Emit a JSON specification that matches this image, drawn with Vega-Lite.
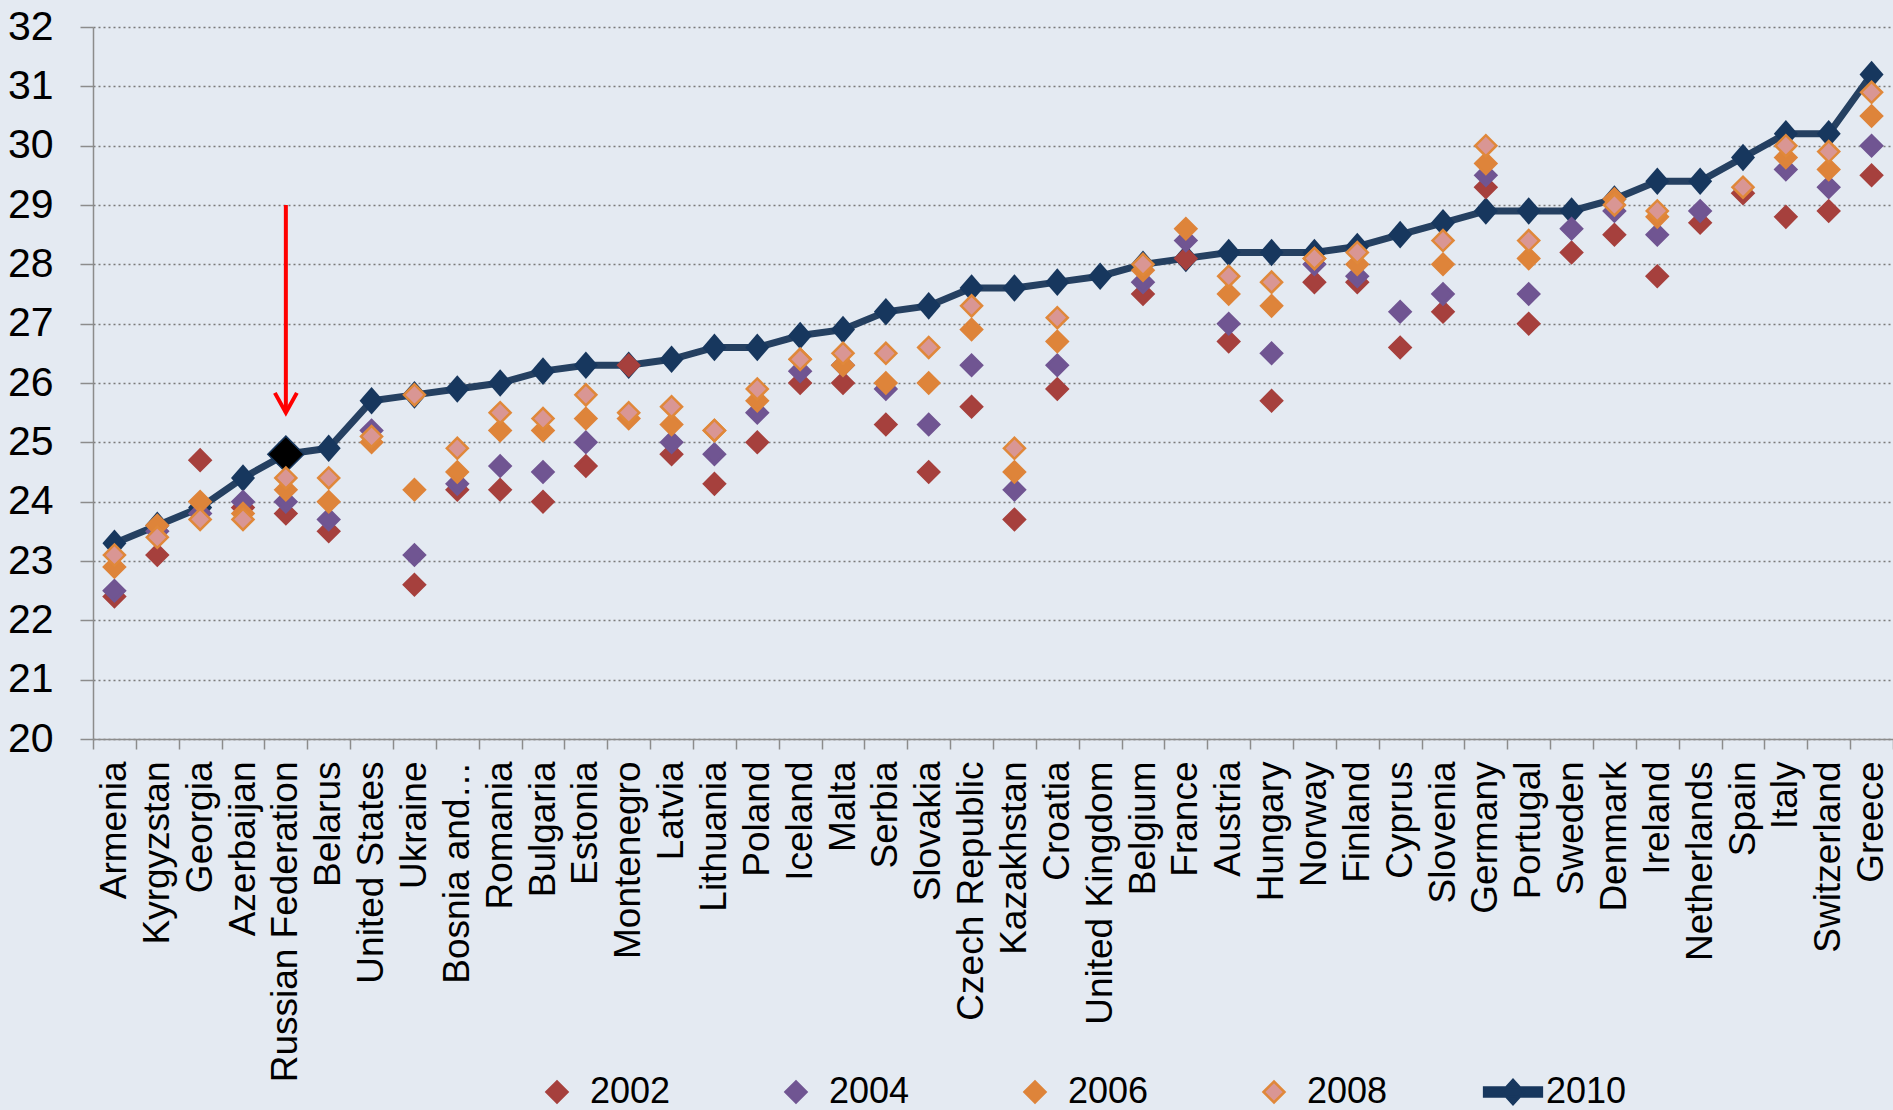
{
  "$schema": "https://vega.github.io/schema/vega-lite/v6.json",
  "width": 1800,
  "height": 712,
  "autosize": {"type": "none"},
  "padding": {"left": 93, "top": 27, "right": 0, "bottom": 371},
  "background": "#e4eaf2",
  "config": {
    "view": {"stroke": null},
    "font": "Liberation Sans",
    "axis": {"labelFont": "Liberation Sans", "labelColor": "#000000"},
    "legend": {"labelFont": "Liberation Sans"}
  },
  "datasets": {
    "d": [
      {"c":"Armenia","yr":"2002","v":22.4},{"c":"Kyrgyzstan","yr":"2002","v":23.1},{"c":"Georgia","yr":"2002","v":24.7},{"c":"Azerbaijan","yr":"2002","v":23.9},{"c":"Russian Federation","yr":"2002","v":23.8},{"c":"Belarus","yr":"2002","v":23.5},{"c":"Ukraine","yr":"2002","v":22.6},{"c":"Bosnia and…","yr":"2002","v":24.2},{"c":"Romania","yr":"2002","v":24.2},{"c":"Bulgaria","yr":"2002","v":24.0},{"c":"Estonia","yr":"2002","v":24.6},{"c":"Montenegro","yr":"2002","v":26.3},{"c":"Latvia","yr":"2002","v":24.8},{"c":"Lithuania","yr":"2002","v":24.3},{"c":"Poland","yr":"2002","v":25.0},{"c":"Iceland","yr":"2002","v":26.0},{"c":"Malta","yr":"2002","v":26.0},{"c":"Serbia","yr":"2002","v":25.3},{"c":"Slovakia","yr":"2002","v":24.5},{"c":"Czech Republic","yr":"2002","v":25.6},{"c":"Kazakhstan","yr":"2002","v":23.7},{"c":"Croatia","yr":"2002","v":25.9},{"c":"Belgium","yr":"2002","v":27.5},{"c":"France","yr":"2002","v":28.1},{"c":"Austria","yr":"2002","v":26.7},{"c":"Hungary","yr":"2002","v":25.7},{"c":"Norway","yr":"2002","v":27.7},{"c":"Finland","yr":"2002","v":27.7},{"c":"Cyprus","yr":"2002","v":26.6},{"c":"Slovenia","yr":"2002","v":27.2},{"c":"Germany","yr":"2002","v":29.3},{"c":"Portugal","yr":"2002","v":27.0},{"c":"Sweden","yr":"2002","v":28.2},{"c":"Denmark","yr":"2002","v":28.5},{"c":"Ireland","yr":"2002","v":27.8},{"c":"Netherlands","yr":"2002","v":28.7},{"c":"Spain","yr":"2002","v":29.2},{"c":"Italy","yr":"2002","v":28.8},{"c":"Switzerland","yr":"2002","v":28.9},{"c":"Greece","yr":"2002","v":29.5},
      {"c":"Armenia","yr":"2004","v":22.5},{"c":"Kyrgyzstan","yr":"2004","v":23.5},{"c":"Georgia","yr":"2004","v":23.8},{"c":"Azerbaijan","yr":"2004","v":24.0},{"c":"Russian Federation","yr":"2004","v":24.0},{"c":"Belarus","yr":"2004","v":23.7},{"c":"United States","yr":"2004","v":25.2},{"c":"Ukraine","yr":"2004","v":23.1},{"c":"Bosnia and…","yr":"2004","v":24.3},{"c":"Romania","yr":"2004","v":24.6},{"c":"Bulgaria","yr":"2004","v":24.5},{"c":"Estonia","yr":"2004","v":25.0},{"c":"Latvia","yr":"2004","v":25.0},{"c":"Lithuania","yr":"2004","v":24.8},{"c":"Poland","yr":"2004","v":25.5},{"c":"Iceland","yr":"2004","v":26.2},{"c":"Malta","yr":"2004","v":26.3},{"c":"Serbia","yr":"2004","v":25.9},{"c":"Slovakia","yr":"2004","v":25.3},{"c":"Czech Republic","yr":"2004","v":26.3},{"c":"Kazakhstan","yr":"2004","v":24.2},{"c":"Croatia","yr":"2004","v":26.3},{"c":"Belgium","yr":"2004","v":27.7},{"c":"France","yr":"2004","v":28.4},{"c":"Austria","yr":"2004","v":27.0},{"c":"Hungary","yr":"2004","v":26.5},{"c":"Norway","yr":"2004","v":28.0},{"c":"Finland","yr":"2004","v":27.8},{"c":"Cyprus","yr":"2004","v":27.2},{"c":"Slovenia","yr":"2004","v":27.5},{"c":"Germany","yr":"2004","v":29.5},{"c":"Portugal","yr":"2004","v":27.5},{"c":"Sweden","yr":"2004","v":28.6},{"c":"Denmark","yr":"2004","v":28.9},{"c":"Ireland","yr":"2004","v":28.5},{"c":"Netherlands","yr":"2004","v":28.9},{"c":"Italy","yr":"2004","v":29.6},{"c":"Switzerland","yr":"2004","v":29.3},{"c":"Greece","yr":"2004","v":30.0},
      {"c":"Armenia","yr":"2006","v":22.9},{"c":"Kyrgyzstan","yr":"2006","v":23.6},{"c":"Georgia","yr":"2006","v":24.0},{"c":"Azerbaijan","yr":"2006","v":23.8},{"c":"Russian Federation","yr":"2006","v":24.2},{"c":"Belarus","yr":"2006","v":24.0},{"c":"United States","yr":"2006","v":25.0},{"c":"Ukraine","yr":"2006","v":24.2},{"c":"Bosnia and…","yr":"2006","v":24.5},{"c":"Romania","yr":"2006","v":25.2},{"c":"Bulgaria","yr":"2006","v":25.2},{"c":"Estonia","yr":"2006","v":25.4},{"c":"Montenegro","yr":"2006","v":25.4},{"c":"Latvia","yr":"2006","v":25.3},{"c":"Lithuania","yr":"2006","v":25.2},{"c":"Poland","yr":"2006","v":25.7},{"c":"Iceland","yr":"2006","v":26.4},{"c":"Malta","yr":"2006","v":26.3},{"c":"Serbia","yr":"2006","v":26.0},{"c":"Slovakia","yr":"2006","v":26.0},{"c":"Czech Republic","yr":"2006","v":26.9},{"c":"Kazakhstan","yr":"2006","v":24.5},{"c":"Croatia","yr":"2006","v":26.7},{"c":"Belgium","yr":"2006","v":27.9},{"c":"France","yr":"2006","v":28.6},{"c":"Austria","yr":"2006","v":27.5},{"c":"Hungary","yr":"2006","v":27.3},{"c":"Norway","yr":"2006","v":28.1},{"c":"Finland","yr":"2006","v":28.0},{"c":"Slovenia","yr":"2006","v":28.0},{"c":"Germany","yr":"2006","v":29.7},{"c":"Portugal","yr":"2006","v":28.1},{"c":"Denmark","yr":"2006","v":29.1},{"c":"Ireland","yr":"2006","v":28.8},{"c":"Italy","yr":"2006","v":29.8},{"c":"Switzerland","yr":"2006","v":29.6},{"c":"Greece","yr":"2006","v":30.5},
      {"c":"Armenia","yr":"2008","v":23.1},{"c":"Kyrgyzstan","yr":"2008","v":23.4},{"c":"Georgia","yr":"2008","v":23.7},{"c":"Azerbaijan","yr":"2008","v":23.7},{"c":"Russian Federation","yr":"2008","v":24.4},{"c":"Belarus","yr":"2008","v":24.4},{"c":"United States","yr":"2008","v":25.1},{"c":"Ukraine","yr":"2008","v":25.8},{"c":"Bosnia and…","yr":"2008","v":24.9},{"c":"Romania","yr":"2008","v":25.5},{"c":"Bulgaria","yr":"2008","v":25.4},{"c":"Estonia","yr":"2008","v":25.8},{"c":"Montenegro","yr":"2008","v":25.5},{"c":"Latvia","yr":"2008","v":25.6},{"c":"Lithuania","yr":"2008","v":25.2},{"c":"Poland","yr":"2008","v":25.9},{"c":"Iceland","yr":"2008","v":26.4},{"c":"Malta","yr":"2008","v":26.5},{"c":"Serbia","yr":"2008","v":26.5},{"c":"Slovakia","yr":"2008","v":26.6},{"c":"Czech Republic","yr":"2008","v":27.3},{"c":"Kazakhstan","yr":"2008","v":24.9},{"c":"Croatia","yr":"2008","v":27.1},{"c":"Belgium","yr":"2008","v":28.0},{"c":"Austria","yr":"2008","v":27.8},{"c":"Hungary","yr":"2008","v":27.7},{"c":"Norway","yr":"2008","v":28.1},{"c":"Finland","yr":"2008","v":28.2},{"c":"Slovenia","yr":"2008","v":28.4},{"c":"Germany","yr":"2008","v":30.0},{"c":"Portugal","yr":"2008","v":28.4},{"c":"Denmark","yr":"2008","v":29.0},{"c":"Ireland","yr":"2008","v":28.9},{"c":"Spain","yr":"2008","v":29.3},{"c":"Italy","yr":"2008","v":30.0},{"c":"Switzerland","yr":"2008","v":29.9},{"c":"Greece","yr":"2008","v":30.9},
      {"c":"Armenia","yr":"2010","v":23.3},{"c":"Kyrgyzstan","yr":"2010","v":23.6},{"c":"Georgia","yr":"2010","v":23.9},{"c":"Azerbaijan","yr":"2010","v":24.4},{"c":"Russian Federation","yr":"2010","v":24.8},{"c":"Belarus","yr":"2010","v":24.9},{"c":"United States","yr":"2010","v":25.7},{"c":"Ukraine","yr":"2010","v":25.8},{"c":"Bosnia and…","yr":"2010","v":25.9},{"c":"Romania","yr":"2010","v":26.0},{"c":"Bulgaria","yr":"2010","v":26.2},{"c":"Estonia","yr":"2010","v":26.3},{"c":"Montenegro","yr":"2010","v":26.3},{"c":"Latvia","yr":"2010","v":26.4},{"c":"Lithuania","yr":"2010","v":26.6},{"c":"Poland","yr":"2010","v":26.6},{"c":"Iceland","yr":"2010","v":26.8},{"c":"Malta","yr":"2010","v":26.9},{"c":"Serbia","yr":"2010","v":27.2},{"c":"Slovakia","yr":"2010","v":27.3},{"c":"Czech Republic","yr":"2010","v":27.6},{"c":"Kazakhstan","yr":"2010","v":27.6},{"c":"Croatia","yr":"2010","v":27.7},{"c":"United Kingdom","yr":"2010","v":27.8},{"c":"Belgium","yr":"2010","v":28.0},{"c":"France","yr":"2010","v":28.1},{"c":"Austria","yr":"2010","v":28.2},{"c":"Hungary","yr":"2010","v":28.2},{"c":"Norway","yr":"2010","v":28.2},{"c":"Finland","yr":"2010","v":28.3},{"c":"Cyprus","yr":"2010","v":28.5},{"c":"Slovenia","yr":"2010","v":28.7},{"c":"Germany","yr":"2010","v":28.9},{"c":"Portugal","yr":"2010","v":28.9},{"c":"Sweden","yr":"2010","v":28.9},{"c":"Denmark","yr":"2010","v":29.1},{"c":"Ireland","yr":"2010","v":29.4},{"c":"Netherlands","yr":"2010","v":29.4},{"c":"Spain","yr":"2010","v":29.8},{"c":"Italy","yr":"2010","v":30.2},{"c":"Switzerland","yr":"2010","v":30.2},{"c":"Greece","yr":"2010","v":31.2}
    ],
    "arrow": [{"c": "Russian Federation", "top": 29.0, "tip": 25.5}]
  },
  "data": {"name": "d"},
  "encoding": {
    "x": {
      "field": "c", "type": "nominal", "title": null,
      "scale": {"type": "band", "paddingInner": 0, "paddingOuter": 0,
        "domain": ["Armenia","Kyrgyzstan","Georgia","Azerbaijan","Russian Federation","Belarus","United States","Ukraine","Bosnia and…","Romania","Bulgaria","Estonia","Montenegro","Latvia","Lithuania","Poland","Iceland","Malta","Serbia","Slovakia","Czech Republic","Kazakhstan","Croatia","United Kingdom","Belgium","France","Austria","Hungary","Norway","Finland","Cyprus","Slovenia","Germany","Portugal","Sweden","Denmark","Ireland","Netherlands","Spain","Italy","Switzerland","Greece"]},
      "axis": {"labelAngle": -90, "labelFontSize": 37, "labelLimit": 500, "labelPadding": 12, "tickBand": "extent", "tickSize": 10, "tickColor": "#8c8c8c", "tickWidth": 1.5, "domainColor": "#8c8c8c", "domainWidth": 1.5, "grid": false}
    },
    "y": {
      "field": "v", "type": "quantitative", "title": null,
      "scale": {"domain": [20, 32], "nice": false, "zero": false},
      "axis": {"values": [20,21,22,23,24,25,26,27,28,29,30,31,32], "labelFontSize": 41, "labelPadding": 27, "tickSize": 13, "tickColor": "#8c8c8c", "tickWidth": 1.5, "domainColor": "#8c8c8c", "domainWidth": 1.5, "grid": true, "gridColor": "#7a7a7a", "gridDash": [2, 3], "gridWidth": 1.5, "labelFlush": false, "labelOverlap": false}
    }
  },
  "layer": [
    {
      "transform": [{"filter": "datum.yr == '2010'"}],
      "mark": {"type": "line", "color": "#254061", "strokeWidth": 7}
    },
    {
      "transform": [{"filter": "datum.yr == '2010'"}],
      "mark": {"type": "point", "shape": "M0,-1.15L1,0L0,1.15L-1,0Z", "filled": true, "color": "#17375e", "opacity": 1, "size": 576}
    },
    {
      "transform": [{"filter": "datum.yr == '2010' && datum.c == 'Russian Federation'"}],
      "mark": {"type": "point", "shape": "diamond", "filled": true, "fill": "#000000", "stroke": "#17375e", "strokeWidth": 1.5, "opacity": 1, "size": 1300}
    },
    {
      "transform": [{"filter": "datum.yr != '2010'"}],
      "mark": {"type": "point", "filled": true, "opacity": 1, "size": 441, "strokeWidth": 2.5},
      "encoding": {
        "fill": {"field": "yr", "type": "nominal", "title": null,
          "scale": {"domain": ["2002","2004","2006","2008","2010"], "range": ["#a6403d","#705592","#de843a","#d99694","#17375e"]},
          "legend": {"orient": "none", "legendX": 446, "legendY": 1047, "direction": "horizontal", "columns": 5, "gridAlign": "all", "columnPadding": 91, "labelFontSize": 36, "labelOffset": 15, "symbolSize": 441, "symbolStrokeWidth": 2.5, "padding": 0, "labelColor": "#000000"}},
        "stroke": {"field": "yr", "type": "nominal", "title": null,
          "scale": {"domain": ["2002","2004","2006","2008","2010"], "range": ["#a6403d","#705592","#de843a","#e0883a","#17375e"]},
          "legend": {"orient": "none", "legendX": 446, "legendY": 1047, "direction": "horizontal", "columns": 5, "gridAlign": "all", "columnPadding": 91, "labelFontSize": 36, "labelOffset": 15, "symbolSize": 441, "symbolStrokeWidth": 2.5, "padding": 0, "labelColor": "#000000"}},
        "shape": {"field": "yr", "type": "nominal", "title": null,
          "scale": {"domain": ["2002","2004","2006","2008","2010"], "range": ["diamond","diamond","diamond","diamond","M-2.75,-0.43L2.75,-0.43L2.75,0.43L-2.75,0.43Z M0,-1.15L1.05,0L0,1.15L-1.05,0Z"]},
          "legend": {"orient": "none", "legendX": 446, "legendY": 1047, "direction": "horizontal", "columns": 5, "gridAlign": "all", "columnPadding": 91, "labelFontSize": 36, "labelOffset": 15, "symbolSize": 441, "symbolStrokeWidth": 2.5, "padding": 0, "labelColor": "#000000"}}
      }
    },
    {
      "data": {"name": "arrow"},
      "mark": {"type": "rule", "color": "#ff0000", "strokeWidth": 4},
      "encoding": {
        "y": {"field": "top", "type": "quantitative", "title": null},
        "y2": {"field": "tip"}
      }
    },
    {
      "data": {"name": "arrow"},
      "mark": {"type": "point", "shape": "M-1,-1.8L0,0L1,-1.8", "filled": false, "stroke": "#ff0000", "strokeWidth": 4, "opacity": 1, "size": 484},
      "encoding": {
        "y": {"field": "tip", "type": "quantitative", "title": null}
      }
    }
  ]
}
